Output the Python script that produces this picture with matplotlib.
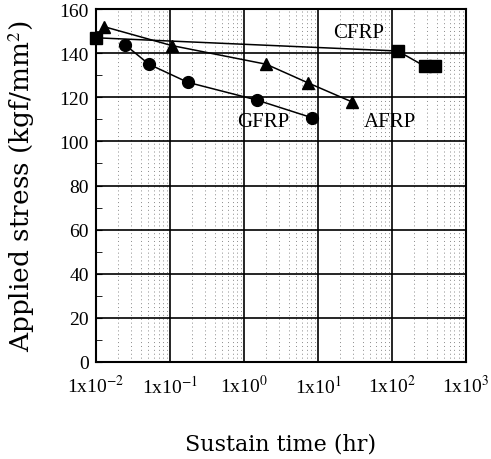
import matplotlib.pyplot as plt
from matplotlib.ticker import FixedLocator, LogLocator, NullFormatter

plt.rcParams['font.family'] = ['Liberation Serif', 'DejaVu Serif']
plt.rcParams['mathtext.fontset'] = 'stix'

# sustain time (hr) vs applied stress (kgf/mm2)
cfrp_time = [0.01, 120, 280, 380]
cfrp_stress = [147, 141, 134, 134]

afrp_time = [0.013, 0.105, 2.0, 7.4, 28.5]
afrp_stress = [152, 143.5, 135, 126.5, 118]

gfrp_time = [0.025, 0.052, 0.174, 1.48, 8.2]
gfrp_stress = [143.7, 135, 126.8, 118.8, 110.8]

x_ticks = [1e-2, 1e-1, 1e0, 1e1, 1e2, 1e3]
x_labels = ['1x10$^{-2}$', '1x10$^{-1}$', '1x10$^{0}$', '1x10$^{1}$', '1x10$^{2}$', '1x10$^{3}$']


def main():
    fig = plt.figure(figsize=(4.91, 4.6), dpi=100)
    ax = fig.add_axes([0.1955, 0.211, 0.7535, 0.767])

    ax.set_xscale('log')
    ax.set_xlim(1e-2, 1e3)
    ax.set_ylim(0, 160)

    ax.plot(cfrp_time, cfrp_stress, color='black', lw=1.1, marker='s', ms=9, clip_on=False, zorder=5)
    ax.plot(afrp_time, afrp_stress, color='black', lw=1.1, marker='^', ms=8.5, clip_on=False, zorder=5)
    ax.plot(gfrp_time, gfrp_stress, color='black', lw=1.1, marker='o', ms=8.5, clip_on=False, zorder=5)

    ax.text(35, 149.5, 'CFRP', fontsize=15, ha='center', va='center')
    ax.text(1.8, 109, 'GFRP', fontsize=15, ha='center', va='center')
    ax.text(94, 109, 'AFRP', fontsize=15, ha='center', va='center')

    ax.set_xticks(x_ticks)
    ax.set_xticklabels(x_labels)
    ax.xaxis.set_minor_locator(LogLocator(base=10, subs=range(2, 10)))
    ax.xaxis.set_minor_formatter(NullFormatter())
    ax.set_yticks(range(0, 161, 20))
    ax.yaxis.set_minor_locator(FixedLocator(range(10, 160, 20)))

    ax.grid(which='major', color='black', lw=1.2)
    ax.grid(which='minor', axis='x', color='#8a8a8a', lw=0.7, ls=(0, (1, 3)))
    ax.tick_params(which='both', direction='in', labelsize=14, length=4)
    ax.tick_params(axis='x', which='both', length=0, pad=9)
    ax.tick_params(axis='y', pad=5)
    for spine in ax.spines.values():
        spine.set_linewidth(1.5)

    ax.set_ylabel('Applied stress (kgf/mm$^2$)', fontsize=19, family='DejaVu Serif')
    ax.yaxis.set_label_coords(-0.16, 0.5)
    ax.set_xlabel('Sustain time (hr)', fontsize=16, family='DejaVu Serif', labelpad=26)

    fig.savefig('out.png', dpi=100)


if __name__ == '__main__':
    main()
